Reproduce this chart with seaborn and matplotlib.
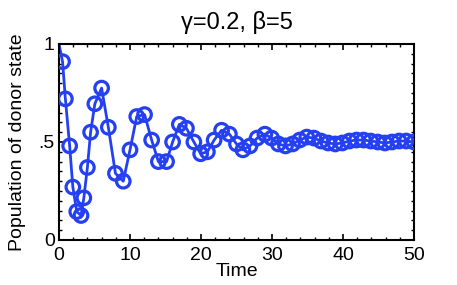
import numpy as np
import pandas as pd
import matplotlib
matplotlib.use("Agg")
import matplotlib.pyplot as plt
import seaborn as sns
from matplotlib.ticker import MultipleLocator, FixedLocator

# ---- data ----
time = [0, 0.5, 0.9, 1.5, 1.95, 2.5, 3.1, 3.5, 4.0, 4.45, 5.05, 6.0, 6.95, 7.95,
        9.05, 10.0, 10.95, 12.05, 13.05, 14.0, 15.15, 16.0, 16.95, 17.95, 19.0,
        19.95, 20.9, 21.85, 22.9, 24.0, 25.0, 25.9, 26.9, 27.9, 29.0, 29.95,
        30.9, 31.9, 32.9, 33.9, 34.9, 35.9, 36.9, 37.9, 38.9, 39.9, 40.9, 41.9,
        42.9, 43.9, 44.9, 45.9, 46.9, 47.9, 48.9, 50.0]
population = [1.0, 0.91, 0.72, 0.48, 0.27, 0.145, 0.125, 0.215, 0.37, 0.55,
              0.695, 0.775, 0.575, 0.34, 0.30, 0.46, 0.63, 0.64, 0.51, 0.40,
              0.40, 0.50, 0.59, 0.57, 0.50, 0.44, 0.45, 0.51, 0.56, 0.54, 0.49,
              0.46, 0.48, 0.52, 0.54, 0.52, 0.49, 0.48, 0.49, 0.51, 0.525, 0.52,
              0.505, 0.495, 0.49, 0.495, 0.505, 0.51, 0.51, 0.505, 0.50, 0.495,
              0.50, 0.505, 0.505, 0.50]
x_ticks = [0, 10, 20, 30, 40, 50]
y_ticks = [0, 0.5, 1]
y_tick_labels = ["0", ".5", "1"]
title = "γ=0.2, β=5"
x_label = "Time"
y_label = "Population of donor state"

df = pd.DataFrame({"time": time, "population": population})
markers_df = df.iloc[1:]

sns.set_style("ticks")
plt.rcParams["font.family"] = ["Liberation Sans", "DejaVu Sans"]
plt.rcParams["text.color"] = "black"
plt.rcParams["axes.labelcolor"] = "black"
plt.rcParams["xtick.color"] = "black"
plt.rcParams["ytick.color"] = "black"

color = "#2440f2"

fig = plt.figure(figsize=(4.57, 2.85), dpi=100)
ax = fig.add_axes([59 / 457, 1 - 240 / 285, (414 - 59) / 457, (240 - 44) / 285])

sns.lineplot(data=df, x="time", y="population", ax=ax, color=color,
             linewidth=2.0, sort=False, estimator=None)
sns.scatterplot(data=markers_df, x="time", y="population", ax=ax,
                facecolors="none", edgecolor=color, linewidth=2.3, s=95,
                marker="o", zorder=3)

ax.set_xlim(0, 50)
ax.set_ylim(0, 1)
ax.xaxis.set_major_locator(FixedLocator(x_ticks))
ax.yaxis.set_major_locator(FixedLocator(y_ticks))
ax.set_yticklabels(y_tick_labels)
ax.xaxis.set_minor_locator(MultipleLocator(2))
ax.yaxis.set_minor_locator(MultipleLocator(0.05))
ax.tick_params(which="both", direction="in", top=True, right=True,
               labelsize=14, colors="black")
ax.tick_params(axis="x", which="major", pad=5)
ax.tick_params(axis="y", which="major", pad=3)
ax.tick_params(which="major", length=4, width=1.2)
ax.tick_params(which="minor", length=2, width=1.0)
for s in ax.spines.values():
    s.set_linewidth(1.5)
    s.set_color("black")

ax.set_title(title, fontsize=17, pad=11)
ax.set_xlabel(x_label, fontsize=14, labelpad=-1)
ax.set_ylabel(y_label, fontsize=14, labelpad=9)

fig.savefig("out.png", dpi=100)
